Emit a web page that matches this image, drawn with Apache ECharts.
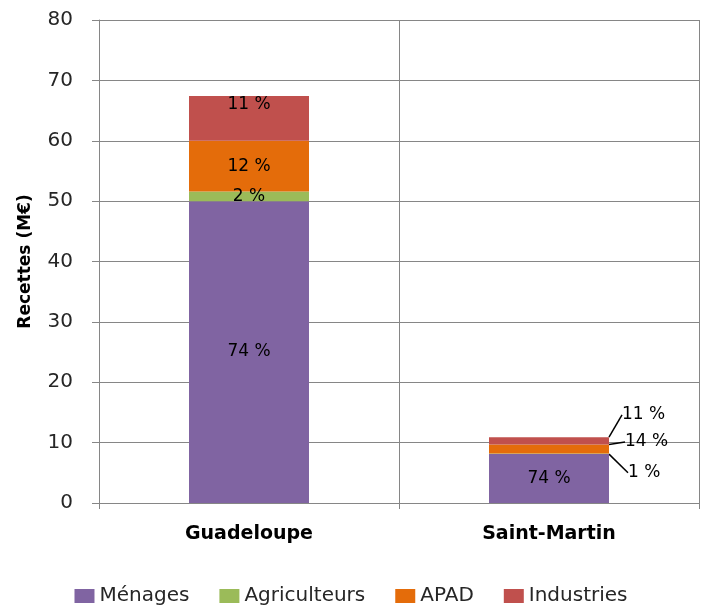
<!DOCTYPE html>
<html>
<head>
<meta charset="utf-8">
<script src="https://cdn.jsdelivr.net/npm/echarts@6/dist/echarts.min.js"></script>
<style>
html, body { margin: 0; padding: 0; background: #fff; }
#main { width: 702px; height: 606px; }
</style>
</head>
<body>
<div id="main"></div>
<script>
// regions
var regions = ['Guadeloupe', 'Saint-Martin'];
// recettes par type d'usager (M€)
var menages = [50, 8.1];
var agriculteurs = [1.6, 0.1];
var apad = [8.4, 1.5];
var industries = [7.4, 1.2];
var yTicks = [0, 10, 20, 30, 40, 50, 60, 70, 80];

var names = ['Ménages', 'Agriculteurs', 'APAD', 'Industries'];
var colors = ['#8064A2', '#9BBB59', '#E46C0A', '#C0504D'];
var allSeries = [menages, agriculteurs, apad, industries];

var totals = regions.map(function (r, i) {
	return menages[i] + agriculteurs[i] + apad[i] + industries[i];
});

function pct(params) {
	return Math.round(params.value / totals[params.dataIndex] * 100) + ' %';
}

var font = 'DejaVu Sans';
var txt = '#262626';
var grey = '#868686';

// deplacement des etiquettes de Saint-Martin (hors de la barre)
var shifts = [null, { dx: 13, dy: 19 }, { dx: 10, dy: -7 }, { dx: 7, dy: -26 }];

var series = allSeries.map(function (vals, s) {
	return {
		name: names[s],
		type: 'bar',
		stack: 'total',
		barWidth: '40%',
		itemStyle: { color: colors[s] },
		label: {
			show: true,
			formatter: pct,
			color: '#000',
			fontFamily: font,
			fontSize: 17,
			position: s === 3 ? 'insideTop' : 'inside',
			distance: 0
		},
		labelLine: {
			show: true,
			lineStyle: { color: '#000', width: 1.5 }
		},
		labelLayout: function (p) {
			if (p.dataIndex === 1 && shifts[s]) {
				return { dx: shifts[s].dx, dy: shifts[s].dy };
			}
			return {};
		},
		data: vals.map(function (v, i) {
			if (i === 1 && s > 0) {
				return { value: v, label: { position: 'right', distance: 6 } };
			}
			return v;
		})
	};
});

var myChart = echarts.init(document.getElementById('main'));
myChart.setOption({
	animation: false,
	textStyle: { fontFamily: font },
	grid: { left: 99, right: 3, top: 20, bottom: 103 },
	legend: {
		data: names,
		top: 581,
		left: 'center',
		icon: 'rect',
		itemWidth: 20,
		itemHeight: 14,
		itemGap: 30,
		textStyle: { fontFamily: font, fontSize: 20, color: txt }
	},
	xAxis: {
		type: 'category',
		data: regions,
		axisLine: { lineStyle: { color: grey, width: 1 } },
		axisTick: { show: true, length: 6, lineStyle: { color: grey } },
		splitLine: { show: true, lineStyle: { color: grey, width: 1 } },
		axisLabel: { color: '#000', fontFamily: font, fontSize: 19, fontWeight: 'bold', margin: 22 }
	},
	yAxis: {
		type: 'value',
		min: yTicks[0],
		max: yTicks[yTicks.length - 1],
		interval: 10,
		name: 'Recettes (M€)',
		nameLocation: 'middle',
		nameRotate: 90,
		nameGap: 65,
		nameTextStyle: { color: '#000', fontFamily: font, fontSize: 17, fontWeight: 'bold' },
		axisLine: { show: true, lineStyle: { color: grey, width: 1 } },
		axisTick: { show: true, length: 7, lineStyle: { color: grey } },
		splitLine: { show: true, lineStyle: { color: grey, width: 1 } },
		axisLabel: { color: txt, fontFamily: font, fontSize: 20, margin: 26 }
	},
	series: series
});
</script>
</body>
</html>
